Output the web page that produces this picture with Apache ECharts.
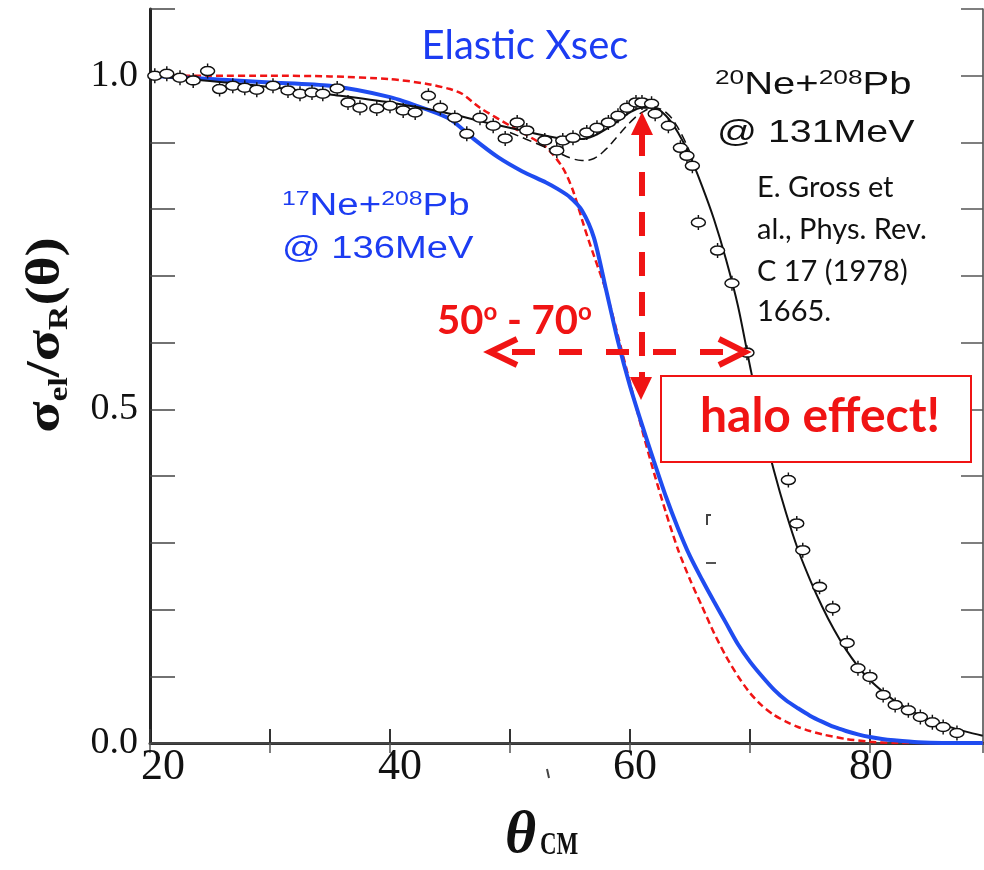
<!DOCTYPE html>
<html><head><meta charset="utf-8">
<script src="https://cdn.jsdelivr.net/npm/echarts/dist/echarts.min.js"></script>
<style>html,body{margin:0;padding:0;background:#fff}#c{width:984px;height:870px}</style>
</head><body><div id="c"></div>
<script>
// ---- data ----
const xTickLabels = [20, 40, 60, 80];
const yTickLabels = [0.0, 0.5, 1.0];

// measured 20Ne + 208Pb @ 131 MeV (E. Gross et al.)
const expTheta = [20.4,21.4,22.5,23.6,24.8,25.8,26.9,27.9,28.9,30.25,31.5,32.5,33.5,34.4,35.6,36.5,37.5,38.9,40.0,41.1,42.1,43.2,44.2,45.4,46.4,47.5,48.6,49.6,50.6,51.4,52.9,53.9,54.4,55.25,56.4,57.25,58.2,59.0,59.75,60.5,61.0,61.8,62.1,63.2,64.2,64.75,65.2,65.7,67.3,68.5,69.75,73.2,73.9,74.4,75.8,76.9,78.1,79.0,80.0,81.1,82.1,83.2,84.2,85.2,86.1,87.25];
const expRatio = [1.0,1.003,0.997,0.993,1.007,0.98,0.985,0.982,0.979,0.985,0.978,0.973,0.975,0.973,0.981,0.96,0.952,0.951,0.955,0.948,0.945,0.97,0.952,0.937,0.913,0.937,0.925,0.906,0.93,0.918,0.903,0.888,0.903,0.907,0.915,0.922,0.93,0.94,0.952,0.96,0.96,0.958,0.943,0.925,0.892,0.88,0.865,0.78,0.738,0.689,0.585,0.394,0.329,0.289,0.234,0.202,0.15,0.112,0.099,0.072,0.057,0.049,0.039,0.031,0.024,0.015];

// optical-model fit, 20Ne (solid black)
const fitTheta = [20,25,30,35,40,44,48,51,53,55,56,57,58,59,60,61,62,63,64,65,66,67,68,69,70,71,72,73,74,75,76,77,78,79,80,82,84,86,88,89.4];
const fitRatio = [1.0,0.992,0.983,0.972,0.96,0.947,0.93,0.918,0.91,0.905,0.905,0.91,0.92,0.932,0.945,0.952,0.952,0.94,0.915,0.88,0.835,0.785,0.725,0.655,0.565,0.48,0.408,0.345,0.29,0.245,0.205,0.17,0.14,0.115,0.094,0.064,0.043,0.028,0.017,0.011];

// alternative fit, 20Ne (dashed black)
const altTheta = [50,52,54,55,56,57,58,59,60,61,62,63,64,65];
const altRatio = [0.915,0.9,0.885,0.877,0.873,0.876,0.89,0.91,0.93,0.945,0.952,0.945,0.922,0.885];

// 17Ne + 208Pb @ 136 MeV (solid blue)
const ne17Theta = [20,25,30,35,40,43,45,47,49,51,53,54,55,56,57,58,59,60,61,62,63,64,65,66,67,68,69,70,71,72,73,74,75,76,77,78,79,80,81,82,84,86,89.4];
const ne17Ratio = [1.0,0.995,0.99,0.985,0.968,0.95,0.935,0.905,0.878,0.857,0.84,0.83,0.818,0.798,0.757,0.68,0.602,0.535,0.477,0.422,0.369,0.322,0.28,0.245,0.212,0.18,0.148,0.122,0.1,0.08,0.064,0.052,0.041,0.032,0.024,0.018,0.013,0.009,0.006,0.004,0.001,0,0];

// reference calculation without halo (dashed red)
const calcTheta = [20,25,30,35,40,43,45,46,47.5,50,53,54.4,55.25,56.25,57,58,59,60,61,62,63,64,65,66,67,68,69,70,71,72,73,74,75,76,78,80,82,89.4];
const calcRatio = [1.0,1.0,1.0,0.999,0.995,0.988,0.98,0.973,0.952,0.925,0.893,0.862,0.828,0.77,0.73,0.678,0.61,0.54,0.47,0.405,0.345,0.29,0.245,0.205,0.165,0.13,0.1,0.075,0.056,0.042,0.032,0.024,0.018,0.013,0.006,0.002,0,0];

// ---- styles ----
const zip = (a, b) => a.map((v, i) => [v, b[i]]);
const XMAX = 89.42;
const SERIF = '"Liberation Serif","Times New Roman",serif';
const SANS = '"Liberation Sans",Arial,sans-serif';
const CAL = 'Lato,"Open Sans",sans-serif';
const RED = '#f01414', BLUE = '#1c3cf2', LINEBLUE = '#1f4cf0';
const xLabelShift = {20: 13, 40: 10, 60: 5, 80: 1};

const xRich = {};
xTickLabels.forEach(v => {
  xRich['o' + v] = {fontFamily: SERIF, fontSize: 44, color: '#111', padding: [0, 0, 0, 2 * xLabelShift[v]]};
});

const chart = echarts.init(document.getElementById('c'), null, {renderer: 'canvas'});
const T = 100;
const option = {
  animation: false,
  backgroundColor: '#fff',
  grid: {left: 150, right: 1, top: 9, bottom: 127, containLabel: false},
  xAxis: [{
    type: 'value', min: 20, max: XMAX, interval: 10, position: 'bottom',
    axisLine: {lineStyle: {color: '#333', width: 3}},
    axisTick: {inside: true, length: 14, lineStyle: {color: '#333', width: 2}},
    splitLine: {show: false},
    axisLabel: {showMaxLabel: false, showMinLabel: true, margin: 2,
      formatter: v => xTickLabels.includes(v) ? '{o' + v + '|' + v + '}' : '', rich: xRich}
  }, {
    type: 'value', min: 20, max: XMAX, interval: 10, position: 'top',
    axisLine: {lineStyle: {color: '#444', width: 2}},
    axisTick: {inside: true, length: 10, lineStyle: {color: '#555', width: 1.5}},
    splitLine: {show: false}, axisLabel: {show: false}
  }],
  yAxis: [{
    type: 'value', min: 0, max: 1.1, interval: 0.1, position: 'left',
    axisLine: {lineStyle: {color: '#222', width: 3}},
    axisTick: {inside: true, length: 25, lineStyle: {color: '#444', width: 1.5}},
    splitLine: {show: false},
    axisLabel: {margin: 12, fontFamily: SERIF, fontSize: 38, color: '#111',
      formatter: v => { const r = Math.round(v * 10) / 10; return yTickLabels.includes(r) ? r.toFixed(1) : ''; }}
  }, {
    type: 'value', min: 0, max: 1.1, interval: 0.1, position: 'right',
    axisLine: {lineStyle: {color: '#444', width: 1.5}},
    axisTick: {inside: true, length: 22, lineStyle: {color: '#555', width: 1.5}},
    splitLine: {show: false}, axisLabel: {show: false}
  }],
  series: [
    {type: 'line', name: 'calc', data: zip(calcTheta, calcRatio), smooth: 0.25, showSymbol: false, z: 3,
     lineStyle: {color: RED, width: 2.5, type: [7, 4]}},
    {type: 'line', name: '17Ne', data: zip(ne17Theta, ne17Ratio), smooth: 0.25, showSymbol: false, z: 4,
     lineStyle: {color: LINEBLUE, width: 4}},
    {type: 'line', name: 'alt', data: zip(altTheta, altRatio), smooth: 0.4, showSymbol: false, z: 5,
     lineStyle: {color: '#111', width: 1.5, type: [9, 5]}},
    {type: 'line', name: 'fit', data: zip(fitTheta, fitRatio), smooth: 0.3, showSymbol: false, z: 5,
     lineStyle: {color: '#111', width: 2}},
    {type: 'scatter', name: 'exp', data: zip(expTheta, expRatio), z: 6,
     symbol: 'path://M7,0L7,3M7,12L7,15M0.5,7.5A6.5,4.5,0,1,0,13.5,7.5A6.5,4.5,0,1,0,0.5,7.5Z',
     symbolSize: [14, 15],
     itemStyle: {color: '#ffffff', opacity: 1, borderColor: '#111', borderWidth: 1.5}}
  ],
  graphic: [
    // axis titles
    {type: 'text', z: T, x: 47, y: 335, rotation: Math.PI / 2, scaleX: 1.2,
     style: {text: '{s|σ}{b|el}{s|/σ}{b|R}{s|(θ)}', align: 'center', verticalAlign: 'middle',
       rich: {s: {fontFamily: SERIF, fontWeight: 'bold', fontSize: 48, fill: '#111', lineHeight: 54},
              b: {fontFamily: SERIF, fontWeight: 'bold', fontSize: 28, fill: '#111', verticalAlign: 'bottom', lineHeight: 28}}}},
    {type: 'text', z: T, x: 505, y: 836,
     style: {text: 'θ', font: 'italic bold 60px ' + SERIF, fill: '#111', align: 'left', verticalAlign: 'middle'}},
    {type: 'text', z: T, x: 540, y: 862, scaleY: 1.4, originY: 0,
     style: {text: 'CM', font: 'bold 23px ' + SERIF, fill: '#111', align: 'left', verticalAlign: 'bottom'}},
    // annotations
    {type: 'text', z: T, x: 525, y: 46,
     style: {text: 'Elastic Xsec', font: '40px ' + CAL, fill: BLUE, align: 'center', verticalAlign: 'middle'}},
    {type: 'text', z: T, x: 715, y: 85, scaleX: 1.25,
     style: {text: '{u|20}{n|Ne+}{u|208}{n|Pb}', align: 'left', verticalAlign: 'middle',
       rich: {n: {fontFamily: SANS, fontSize: 32, fill: '#111', lineHeight: 34},
              u: {fontFamily: SANS, fontSize: 21, fill: '#111', verticalAlign: 'top', lineHeight: 22}}}},
    {type: 'text', z: T, x: 717, y: 133, scaleX: 1.23,
     style: {text: '@ 131MeV', font: '32px ' + SANS, fill: '#111', align: 'left', verticalAlign: 'middle'}},
    {type: 'text', z: T, x: 757, y: 188, style: {text: 'E. Gross et', font: '29px ' + CAL, fill: '#111', align: 'left', verticalAlign: 'middle'}},
    {type: 'text', z: T, x: 757, y: 230, style: {text: 'al., Phys. Rev.', font: '29px ' + CAL, fill: '#111', align: 'left', verticalAlign: 'middle'}},
    {type: 'text', z: T, x: 757, y: 272, style: {text: 'C 17 (1978)', font: '29px ' + CAL, fill: '#111', align: 'left', verticalAlign: 'middle'}},
    {type: 'text', z: T, x: 757, y: 312, style: {text: '1665.', font: '29px ' + CAL, fill: '#111', align: 'left', verticalAlign: 'middle'}},
    {type: 'text', z: T, x: 282, y: 206, scaleX: 1.24,
     style: {text: '{u|17}{n|Ne+}{u|208}{n|Pb}', align: 'left', verticalAlign: 'middle',
       rich: {n: {fontFamily: SANS, fontSize: 31, fill: BLUE, lineHeight: 33},
              u: {fontFamily: SANS, fontSize: 20, fill: BLUE, verticalAlign: 'top', lineHeight: 21}}}},
    {type: 'text', z: T, x: 282, y: 249, scaleX: 1.23,
     style: {text: '@ 136MeV', font: '31px ' + SANS, fill: BLUE, align: 'left', verticalAlign: 'middle'}},
    {type: 'text', z: T, x: 437, y: 321,
     style: {text: '{d|50}{o|o}{d| - 70}{o|o}', align: 'left', verticalAlign: 'middle',
       rich: {d: {fontFamily: CAL, fontWeight: 'bold', fontSize: 40, fill: RED, lineHeight: 42},
              o: {fontFamily: CAL, fontWeight: 'bold', fontSize: 24, fill: RED, verticalAlign: 'top', lineHeight: 26}}}},
    // horizontal double arrow
    {type: 'line', z: T, shape: {x1: 500, y1: 352, x2: 735, y2: 352},
     style: {stroke: RED, lineWidth: 6, lineDash: [23, 24], lineDashOffset: -12}},
    {type: 'polyline', z: T, shape: {points: [[517, 339], [490, 352], [517, 365]]},
     style: {stroke: RED, lineWidth: 6, fill: null}},
    {type: 'polyline', z: T, shape: {points: [[719, 339], [745, 352], [719, 365]]},
     style: {stroke: RED, lineWidth: 6, fill: null}},
    // vertical double arrow
    {type: 'line', z: T, shape: {x1: 642, y1: 132, x2: 642, y2: 380},
     style: {stroke: RED, lineWidth: 6, lineDash: [24, 16]}},
    {type: 'polygon', z: T, shape: {points: [[642, 112], [653, 135], [631, 135]]}, style: {fill: RED}},
    {type: 'polygon', z: T, shape: {points: [[641, 400], [652, 377], [630, 377]]}, style: {fill: RED}},
    // halo effect box
    {type: 'rect', z: T, shape: {x: 661, y: 376, width: 310, height: 86},
     style: {fill: '#fff', stroke: RED, lineWidth: 2}},
    {type: 'text', z: T + 1, x: 820, y: 417,
     style: {text: 'halo effect!', font: 'bold 48px ' + CAL, fill: RED, align: 'center', verticalAlign: 'middle'}},
    // scan specks
    {type: 'polyline', z: T, shape: {points: [[707, 525], [707, 515], [711, 515]]}, style: {stroke: '#444', lineWidth: 2, fill: null}},
    {type: 'line', z: T, shape: {x1: 706, y1: 563, x2: 716, y2: 563}, style: {stroke: '#555', lineWidth: 2}},
    {type: 'line', z: T, shape: {x1: 547, y1: 769, x2: 549, y2: 778}, style: {stroke: '#444', lineWidth: 2}}
  ]
};
chart.setOption(option);
</script></body></html>
